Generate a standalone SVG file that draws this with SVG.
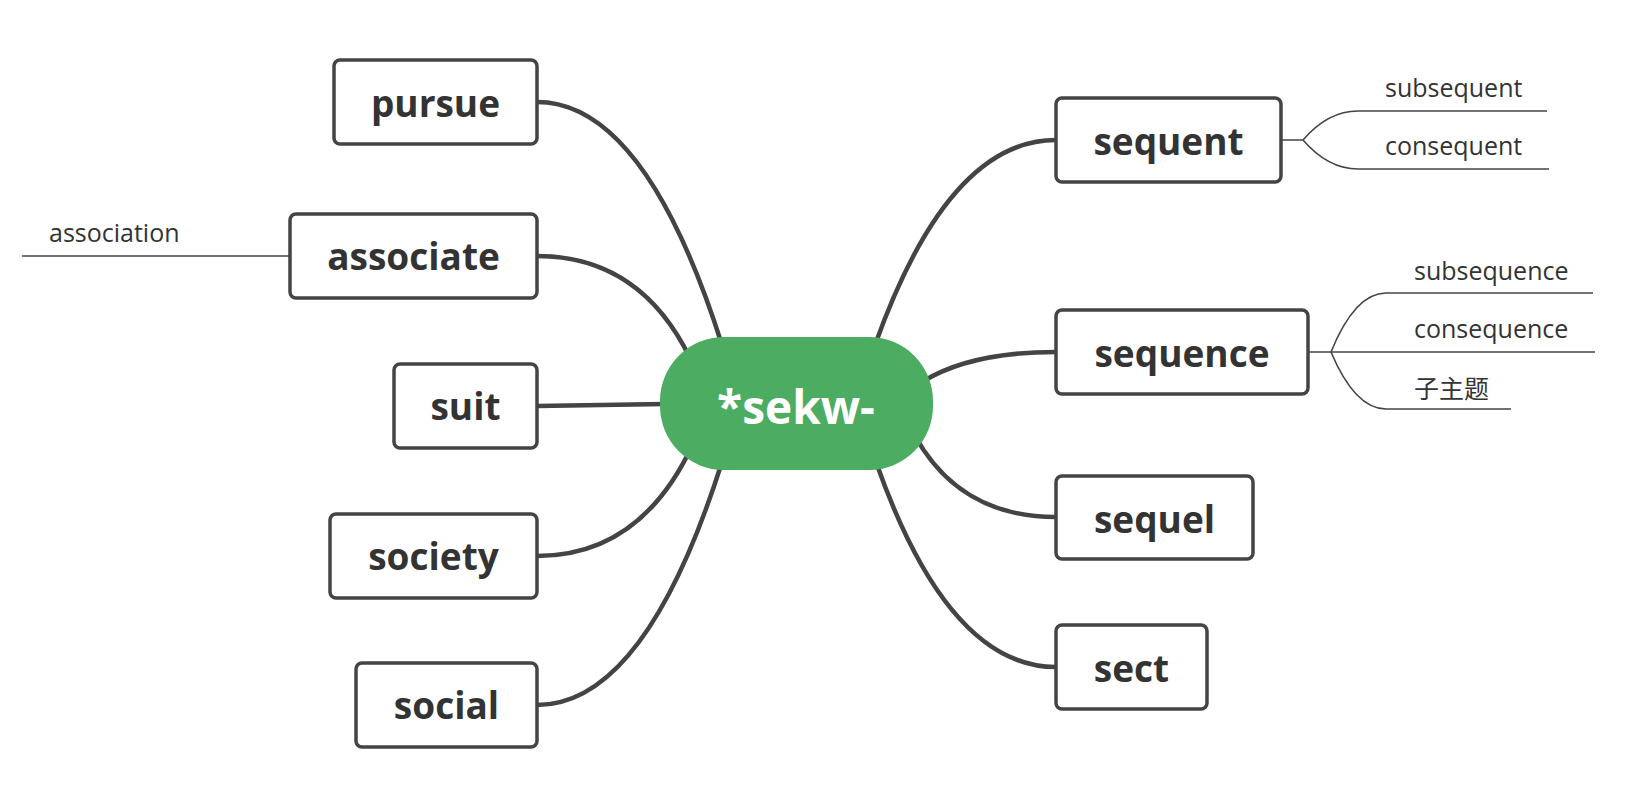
<svg xmlns="http://www.w3.org/2000/svg" width="1648" height="798" viewBox="0 0 1648 798">
<style>
.box{fill:#fff;stroke:#444;stroke-width:3.5}
.lbl{font-family:"Open Sans","Noto Sans",sans-serif;font-weight:bold;font-size:37px;fill:#333;text-anchor:middle}
.sub{font-family:"Open Sans","Noto Sans","Noto Sans CJK SC",sans-serif;font-size:25px;fill:#333}
.main{fill:none;stroke:#444;stroke-width:4.5;stroke-linecap:round}
.thin{fill:none;stroke:#444;stroke-width:1.6}
</style>
<rect width="1648" height="798" fill="#fff"/>
<g id="connectors">
<path class="main" d="M537,102 Q645,102 722,345"/>
<path class="main" d="M537,256 Q640,256 690,358"/>
<path class="main" d="M537,406 L665,404"/>
<path class="main" d="M537,556 Q640,556 692,446"/>
<path class="main" d="M537,705 Q645,705 722,462"/>
<path class="main" d="M1056,140 Q948,140 875,345"/>
<path class="main" d="M1056,352 Q970,352 922,382"/>
<path class="main" d="M1056,517 Q960,517 915,436"/>
<path class="main" d="M1056,667 Q948,667 876,462"/>
<path class="thin" d="M22,256 H290"/>
<path class="thin" d="M1281,140 H1303 Q1328,111 1358,111 H1547"/>
<path class="thin" d="M1303,140 Q1328,169 1358,169 H1549"/>
<path class="thin" d="M1308,352 H1595"/>
<path class="thin" d="M1331,352 Q1355,293 1386,293 H1593"/>
<path class="thin" d="M1331,352 Q1355,409 1386,409 H1511"/>
</g>
<g id="root">
<rect x="660" y="337" width="273" height="133" rx="64" ry="64" fill="#4CAC62"/>
<text x="796" y="424" font-family="Open Sans,Noto Sans,sans-serif" font-weight="bold" font-size="46" fill="#fff" text-anchor="middle">*sekw-</text>
</g>
<g id="pursue"><rect class="box" x="334" y="60" width="203" height="84" rx="6"/><text class="lbl" x="435.5" y="117">pursue</text></g>
<g id="associate"><rect class="box" x="290" y="214" width="247" height="84" rx="6"/><text class="lbl" x="413.5" y="270">associate</text></g>
<g id="suit"><rect class="box" x="394" y="364" width="143" height="84" rx="6"/><text class="lbl" x="465.5" y="420">suit</text></g>
<g id="society"><rect class="box" x="330" y="514" width="207" height="84" rx="6"/><text class="lbl" x="433.5" y="570">society</text></g>
<g id="social"><rect class="box" x="356" y="663" width="181" height="84" rx="6"/><text class="lbl" x="446.5" y="719">social</text></g>
<g id="sequent"><rect class="box" x="1056" y="98" width="225" height="84" rx="6"/><text class="lbl" x="1168.5" y="155">sequent</text></g>
<g id="sequence"><rect class="box" x="1056" y="310" width="252" height="84" rx="6"/><text class="lbl" x="1182" y="367">sequence</text></g>
<g id="sequel"><rect class="box" x="1056" y="476" width="197" height="83" rx="6"/><text class="lbl" x="1154.5" y="533">sequel</text></g>
<g id="sect"><rect class="box" x="1056" y="625" width="151" height="84" rx="6"/><text class="lbl" x="1131.5" y="682">sect</text></g>
<g id="association"><text class="sub" x="49" y="242">association</text></g>
<g id="subsequent"><text class="sub" x="1385" y="97">subsequent</text></g>
<g id="consequent"><text class="sub" x="1385" y="155">consequent</text></g>
<g id="subsequence"><text class="sub" x="1414" y="280">subsequence</text></g>
<g id="consequence"><text class="sub" x="1414" y="338">consequence</text></g>
<g id="zizhuti"><text class="sub" x="1414" y="398">子主题</text></g>
</svg>
